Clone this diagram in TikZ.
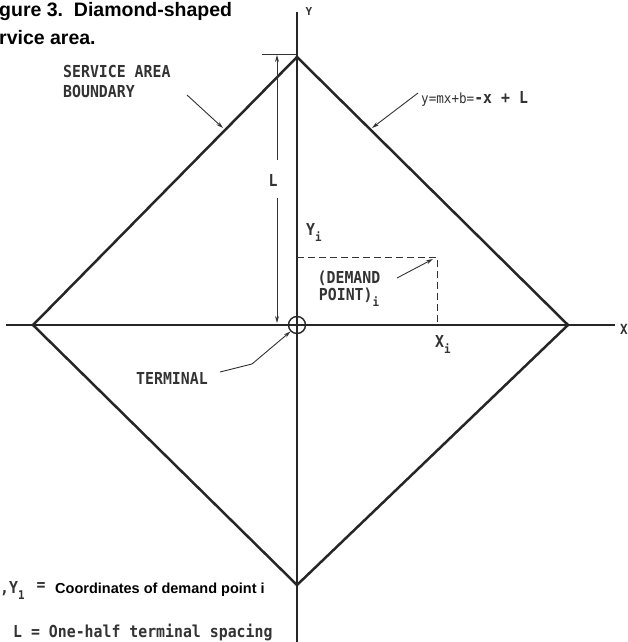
\documentclass[tikz,border=0pt]{standalone}
\usepackage{fontspec}
\setmainfont{Liberation Sans}
\newfontfamily\monof{DejaVu Sans Mono}
\usetikzlibrary{arrows.meta}
\newcommand{\mt}[1]{\scalebox{0.9}[1]{#1}}
\newcommand{\msub}[1]{\raisebox{-6pt}{\fontsize{12}{12}\selectfont #1}}
\begin{document}
\begin{tikzpicture}[x=1pt,y=-1pt,
  axis/.style={line width=1.4pt, black!85},
  edge/.style={line width=2.5pt, black!85, line join=miter},
  thinln/.style={line width=0.9pt, black!80},
  tip/.style={-{Stealth[length=7pt,width=4pt]}},
  mono/.style={font=\fontsize{16.5}{17}\selectfont\monof, inner sep=0pt, text=black!80},
  boldtxt/.style={font=\fontsize{14.5}{16}\selectfont\bfseries, inner sep=0pt},
  title/.style={font=\fontsize{19.5}{20}\selectfont\bfseries, inner sep=0pt, anchor=base west},
]
\useasboundingbox (0,0) rectangle (628,642);
% title
\node[title] (t1) at (-1,17) {gure 3.\ \ Diamond-shaped};
\node[title] (t2) at (-1,45) {rvice area.};
% geometry
\coordinate (O) at (297,325);
\coordinate (T) at (297,57);
\coordinate (R) at (568,325);
\coordinate (B) at (297,585);
\coordinate (Lv) at (33,325);
\coordinate (ytop) at (297,12);
\coordinate (ybot) at (297,645);
\coordinate (xl) at (6,325);
\coordinate (xr) at (615,325);
\draw[axis] (ytop) -- (ybot);
\draw[axis] (xl) -- (xr);
\draw[edge] (T) -- (R) -- (B) -- (Lv) -- cycle;
\node[circle, draw, line width=1.4pt, black!85, minimum size=17pt, inner sep=0pt] (term) at (O) {};
% axis labels
\node[mono, font=\fontsize{11}{12}\selectfont\monof\bfseries] (ylab) at (309,11) {Y};
\node[mono, font=\fontsize{14}{14}\selectfont\monof\bfseries, anchor=east] (xlab) at (628,329) {\mt{X}};
% L dimension
\coordinate (tickL) at (262,54);
\coordinate (tickR) at (297,54);
\draw[thinln] (tickL) -- (tickR);
\node[mono, font=\fontsize{16.5}{17}\selectfont\monof\bfseries] (Llab) at (273,180) {\mt{L}};
\coordinate (La1) at (277,160);
\coordinate (Lt) at (277,55);
\coordinate (La2) at (277,198);
\coordinate (Lb) at (277,323);
\draw[thinln,tip] (La1) -- (Lt);
\draw[thinln,tip] (La2) -- (Lb);
% demand point
\coordinate (dp) at (437,257);
\coordinate (dy) at (297,257);
\coordinate (dx) at (437,325);
\draw[thinln, dash pattern=on 7pt off 4pt] (dy) -- (dp) -- (dx);
\node[mono, anchor=west, font=\fontsize{16.5}{17}\selectfont\monof\bfseries] (yi) at (306,232) {\mt{Y\msub{i}}};
\node[mono, align=center, font=\fontsize{16.5}{17}\selectfont\monof\bfseries] (dlab) at (349,289) {\mt{(DEMAND}\\\mt{POINT)\msub{i}}};
\coordinate (da) at (397,278);
\coordinate (dtip) at (433,259);
\draw[thinln,tip] (da) -- (dtip);
\node[mono, anchor=west, font=\fontsize{16.5}{17}\selectfont\monof\bfseries] (xi) at (435,344) {\mt{X\msub{i}}};
% terminal
\node[mono, font=\fontsize{16.5}{17}\selectfont\monof\bfseries] (tlab) at (172,378) {\mt{TERMINAL}};
\coordinate (tl1) at (220,372);
\coordinate (tl2) at (252,364);
\draw[thinln,tip] (tl1) -- (tl2) -- (term.225);
% service area boundary
\node[mono, anchor=base west, align=left, font=\fontsize{16.5}{20}\selectfont\monof\bfseries] (sa) at (63,97) {\mt{SERVICE AREA}\\\mt{BOUNDARY}};
\coordinate (sa1) at (187,95);
\coordinate (sa2) at (223,128);
\draw[thinln,tip] (sa1) -- (sa2);
% equation
\node[mono, anchor=base west, font=\fontsize{16.5}{17}\selectfont\monof\bfseries] (eq) at (421,103) {\mt{{\fontsize{14}{14}\selectfont\mdseries y=mx+b=}-x + L}};
\coordinate (eq1) at (418,93);
\coordinate (eq2) at (372,128);
\draw[thinln,tip] (eq1) -- (eq2);
% legend
\node[mono, anchor=base west, font=\fontsize{16.5}{17}\selectfont\monof\bfseries] (r1a) at (0,593) {\mt{,Y\msub{1}}};
\node[mono, font=\fontsize{16.5}{17}\selectfont\monof\bfseries] (r1eq) at (41,587) {\mt{=}};
\node[boldtxt, anchor=base west] (r1b) at (55,593) {Coordinates of demand point i};
\node[mono, anchor=base west, font=\fontsize{16.5}{17}\selectfont\monof\bfseries] (r2) at (13,637) {\mt{L = One-half terminal spacing}};
\end{tikzpicture}
\end{document}
